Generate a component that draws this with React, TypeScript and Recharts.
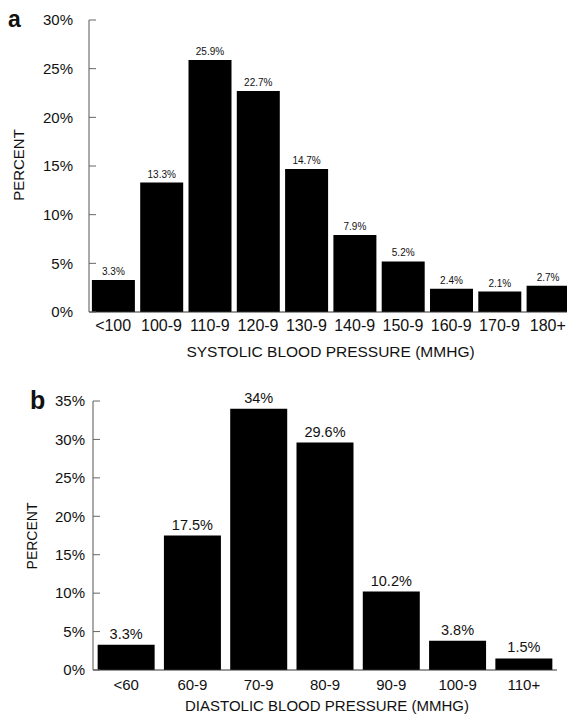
import React from 'react';
import { BarChart, Bar, XAxis, YAxis, LabelList, Label } from 'recharts';

const systolicBins = ['<100', '100-9', '110-9', '120-9', '130-9', '140-9', '150-9', '160-9', '170-9', '180+'];
const systolicPct = [3.3, 13.3, 25.9, 22.7, 14.7, 7.9, 5.2, 2.4, 2.1, 2.7];
const systolicTicks = [0, 5, 10, 15, 20, 25, 30];

const diastolicBins = ['<60', '60-9', '70-9', '80-9', '90-9', '100-9', '110+'];
const diastolicPct = [3.3, 17.5, 34, 29.6, 10.2, 3.8, 1.5];
const diastolicTicks = [0, 5, 10, 15, 20, 25, 30, 35];

const FONT = '"Liberation Sans", Arial, Helvetica, sans-serif';
const INK = '#111';

const pct = (v: number) => `${v}%`;

export default function App() {
  const systolicData = systolicBins.map((bin, i) => ({ bin, value: systolicPct[i] }));
  const diastolicData = diastolicBins.map((bin, i) => ({ bin, value: diastolicPct[i] }));

  return (
    <div
      style={{
        position: 'absolute',
        left: 0,
        top: 0,
        width: 567,
        height: 716,
        overflow: 'hidden',
        background: '#fff',
        fontFamily: FONT,
        color: INK,
      }}
    >
      {/* panel a */}
      <div style={{ position: 'absolute', left: 0, top: 0 }}>
        <BarChart
          width={572}
          height={360}
          data={systolicData}
          margin={{ top: 20, right: 0, bottom: 0, left: 0 }}
          barCategoryGap="6%"
        >
          <XAxis
            dataKey="bin"
            height={48}
            tickLine={false}
            axisLine={{ stroke: '#333' }}
            tick={{ fill: INK, fontSize: 16, fontFamily: FONT }}
            interval={0}
          >
            <Label
              value="SYSTOLIC BLOOD PRESSURE (MMHG)"
              position="insideBottom"
              offset={3}
              style={{ fill: INK, fontSize: 15.5, fontFamily: FONT }}
            />
          </XAxis>
          <YAxis
            width={89}
            domain={[0, 30]}
            ticks={systolicTicks}
            tickFormatter={pct}
            tickSize={-7}
            tickMargin={23}
            tickLine={{ stroke: '#666' }}
            axisLine={{ stroke: '#555' }}
            tick={{ fill: INK, fontSize: 15, fontFamily: FONT }}
          />
          <Bar dataKey="value" fill="#000" isAnimationActive={false}>
            <LabelList
              dataKey="value"
              position="top"
              offset={5}
              formatter={pct}
              style={{ fill: INK, fontSize: 10, fontFamily: FONT }}
            />
          </Bar>
        </BarChart>
      </div>

      {/* panel b */}
      <div style={{ position: 'absolute', left: 0, top: 360 }}>
        <BarChart
          width={567}
          height={356}
          data={diastolicData}
          margin={{ top: 41, right: 10, bottom: 0, left: 0 }}
          barCategoryGap="7%"
        >
          <XAxis
            dataKey="bin"
            height={46}
            tickLine={false}
            tickMargin={3}
            axisLine={{ stroke: '#333' }}
            tick={{ fill: INK, fontSize: 15, fontFamily: FONT }}
            interval={0}
          >
            <Label
              value="DIASTOLIC BLOOD PRESSURE (MMHG)"
              position="insideBottom"
              offset={5}
              dx={2}
              style={{ fill: INK, fontSize: 15, fontFamily: FONT }}
            />
          </XAxis>
          <YAxis
            width={93}
            domain={[0, 35]}
            ticks={diastolicTicks}
            tickFormatter={pct}
            tickSize={-7}
            tickMargin={15}
            tickLine={{ stroke: '#666' }}
            axisLine={{ stroke: '#555' }}
            tick={{ fill: INK, fontSize: 15, fontFamily: FONT }}
          />
          <Bar dataKey="value" fill="#000" isAnimationActive={false}>
            <LabelList
              dataKey="value"
              position="top"
              offset={6}
              formatter={pct}
              style={{ fill: INK, fontSize: 14.5, fontFamily: FONT }}
            />
          </Bar>
        </BarChart>
      </div>

      {/* panel letters and rotated y titles */}
      <div style={{ position: 'absolute', left: 8, top: 6, fontSize: 23, fontWeight: 700, lineHeight: '26px' }}>a</div>
      <div style={{ position: 'absolute', left: 30, top: 386, fontSize: 25, fontWeight: 700, lineHeight: '28px' }}>b</div>
      <div
        style={{
          position: 'absolute',
          left: 18,
          top: 165,
          fontSize: 15,
          transform: 'translate(-50%, -50%) rotate(-90deg)',
          whiteSpace: 'nowrap',
        }}
      >
        PERCENT
      </div>
      <div
        style={{
          position: 'absolute',
          left: 32,
          top: 536,
          fontSize: 14,
          transform: 'translate(-50%, -50%) rotate(-90deg)',
          whiteSpace: 'nowrap',
        }}
      >
        PERCENT
      </div>
    </div>
  );
}
